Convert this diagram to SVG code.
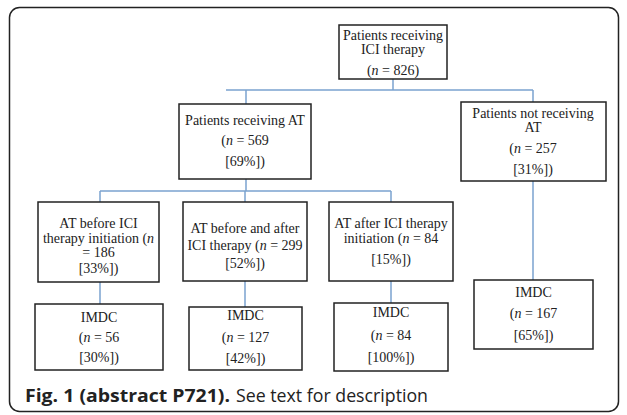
<svg xmlns="http://www.w3.org/2000/svg" width="627" height="415" viewBox="0 0 627 415">
<style>
.box{fill:#fff;stroke:#222;stroke-width:1.5}
.t{font-family:"Liberation Serif","Times New Roman",serif;font-size:14px;fill:#222;text-anchor:middle}
.c{fill:none;stroke:#7ba3cf;stroke-width:1.5}
.cap{font-family:"Open Sans","Noto Sans",sans-serif;font-size:17.5px;fill:#222}
</style>
<rect x="0" y="0" width="627" height="415" fill="#fff"/>
<rect x="9.5" y="7.5" width="609" height="404" rx="10" fill="none" stroke="#222" stroke-width="1.5"/>
<g id="connectors">
<path class="c" d="M393 79V90M226 90H533M246 90V104M533 90V102"/>
<path class="c" d="M246 179V191M100 191H391M100 191V202M245 191V202M391 191V202"/>
<path class="c" d="M100 282V304M245 281V307M391 281V303M533 181V280"/>
</g>
<g id="n_root"><rect class="box" x="339" y="25" width="108" height="54"/>
<text class="t" x="393" y="40">Patients receiving</text><text class="t" x="393" y="54">ICI therapy</text><text class="t" x="393" y="75">(<tspan font-style="italic">n</tspan> = 826)</text></g>
<g id="n_at"><rect class="box" x="179" y="104" width="132" height="75"/>
<text class="t" x="245" y="125">Patients receiving AT</text><text class="t" x="245" y="145">(<tspan font-style="italic">n</tspan> = 569</text><text class="t" x="245" y="166">[69%])</text></g>
<g id="n_notat"><rect class="box" x="461" y="102" width="145" height="79"/>
<text class="t" x="533" y="118">Patients not receiving</text><text class="t" x="533" y="132">AT</text><text class="t" x="533" y="153">(<tspan font-style="italic">n</tspan> = 257</text><text class="t" x="533" y="174">[31%])</text></g>
<g id="n_before"><rect class="box" x="38" y="202" width="121" height="80"/>
<text class="t" x="98.5" y="228">AT before ICI</text><text class="t" x="98.5" y="243">therapy initiation (<tspan font-style="italic">n</tspan></text><text class="t" x="98.5" y="257">= 186</text><text class="t" x="98.5" y="273">[33%])</text></g>
<g id="n_both"><rect class="box" x="183" y="202" width="124" height="79"/>
<text class="t" x="245" y="233">AT before and after</text><text class="t" x="245" y="250">ICI therapy (<tspan font-style="italic">n</tspan> = 299</text><text class="t" x="245" y="268">[52%])</text></g>
<g id="n_after"><rect class="box" x="329" y="202" width="124" height="79"/>
<text class="t" x="391" y="228">AT after ICI therapy</text><text class="t" x="391" y="243">initiation (<tspan font-style="italic">n</tspan> = 84</text><text class="t" x="391" y="264">[15%])</text></g>
<g id="n_imdc1"><rect class="box" x="35" y="304" width="128" height="66"/>
<text class="t" x="99" y="322">IMDC</text><text class="t" x="99" y="342">(<tspan font-style="italic">n</tspan> = 56</text><text class="t" x="99" y="362">[30%])</text></g>
<g id="n_imdc2"><rect class="box" x="189" y="307" width="113" height="63"/>
<text class="t" x="245.5" y="320">IMDC</text><text class="t" x="245.5" y="342">(<tspan font-style="italic">n</tspan> = 127</text><text class="t" x="245.5" y="363">[42%])</text></g>
<g id="n_imdc3"><rect class="box" x="334" y="303" width="114" height="68"/>
<text class="t" x="391" y="317">IMDC</text><text class="t" x="391" y="340">(<tspan font-style="italic">n</tspan> = 84</text><text class="t" x="391" y="362">[100%])</text></g>
<g id="n_imdc4"><rect class="box" x="474" y="280" width="119" height="69"/>
<text class="t" x="533.5" y="297">IMDC</text><text class="t" x="533.5" y="318">(<tspan font-style="italic">n</tspan> = 167</text><text class="t" x="533.5" y="340">[65%])</text></g>
<text class="cap" x="25" y="402" font-weight="bold" textLength="205" lengthAdjust="spacingAndGlyphs">Fig. 1 (abstract P721).</text>
<text class="cap" x="236" y="402" textLength="192" lengthAdjust="spacingAndGlyphs">See text for description</text>
</svg>
